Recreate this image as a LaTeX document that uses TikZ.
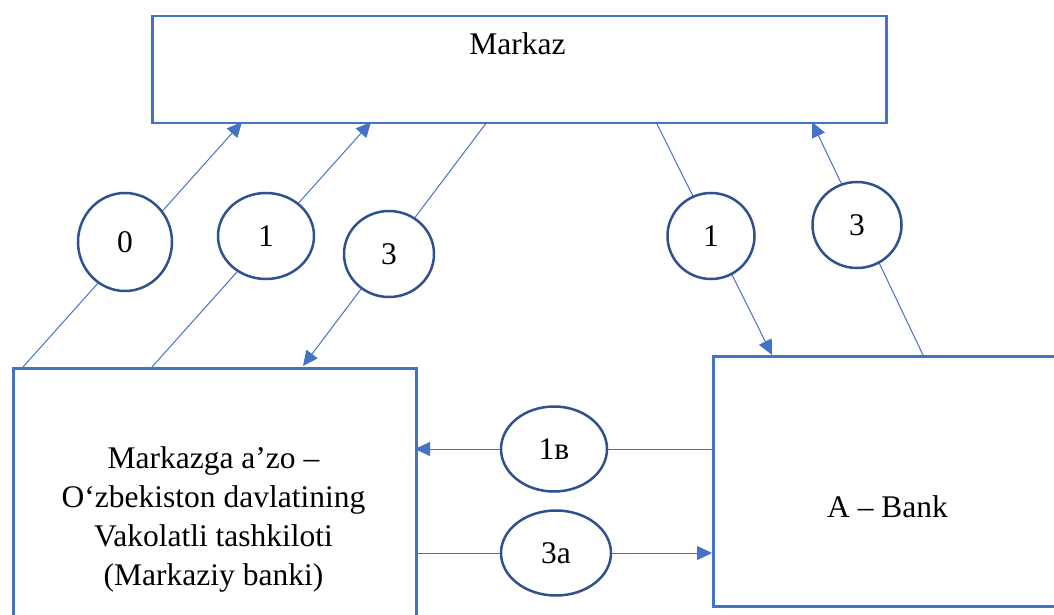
\documentclass[tikz,border=0pt]{standalone}
\usepackage{fontspec}
\setmainfont{Liberation Serif}
\usetikzlibrary{shapes.geometric,arrows.meta}
\definecolor{boxblue}{HTML}{4472C4}
\definecolor{ringblue}{HTML}{2F528F}
\begin{document}
\begin{tikzpicture}[x=1pt,y=-1pt,
  box/.style={draw=boxblue,line width=2.5pt,rectangle,inner sep=0pt,anchor=north west},
  conn/.style={draw=boxblue,line width=1pt},
  arr/.style={conn,-{Triangle[length=15pt,width=14pt]}},
  circ/.style={ellipse,draw=ringblue,line width=2.5pt,fill=white,inner sep=0pt,font=\fontsize{31.5}{39}\selectfont},
  lbl/.style={font=\fontsize{31.5}{39}\selectfont,inner sep=0pt}]
\useasboundingbox (0,0) rectangle (1054,615);
\clip (0,0) rectangle (1054,615);
% boxes
\node[box,minimum width=734pt,minimum height=107pt] (markaz) at (151,15) {};
\node[box,minimum width=403pt,minimum height=300pt] (left) at (12,367) {};
\node[box,minimum width=400pt,minimum height=250pt] (bank) at (712,355) {};
\node[lbl,anchor=base] (tmarkaz) at (517.5,55) {Markaz};
\node[lbl,anchor=base,align=center] (tleft) at (213.5,585) {Markazga a’zo –\\O‘zbekiston davlatining\\Vakolatli tashkiloti\\(Markaziy banki)};
\node[lbl,anchor=base] (tbank) at (887.5,517) {A – Bank};
% connector end points
\coordinate (a0) at (23,367);   \coordinate (t0) at (242,122);
\coordinate (a1) at (152,367);  \coordinate (t1) at (371,122);
\coordinate (s3) at (487,122);  \coordinate (e3) at (303,366);
\coordinate (s1r) at (656,122); \coordinate (e1r) at (772,355);
\coordinate (s3r) at (923,355); \coordinate (e3r) at (812,122);
\coordinate (s1b) at (712,449); \coordinate (e1b) at (415,449);
\coordinate (s3a) at (415,553); \coordinate (e3a) at (712,553);
% connectors
\draw[arr] (a0) -- (t0);
\draw[arr] (a1) -- (t1);
\draw[arr] (s3) -- (e3);
\draw[arr] (s1r) -- (e1r);
\draw[arr] (s3r) -- (e3r);
\draw[arr] (s1b) -- (e1b);
\draw[arr] (s3a) -- (e3a);
% circles
\node[circ,minimum width=94pt,minimum height=98pt] (c0) at (125,242) {0};
\node[circ,minimum width=96pt,minimum height=86pt] (c1) at (266,236) {1};
\node[circ,minimum width=90pt,minimum height=86pt] (c3) at (389,254) {3};
\node[circ,minimum width=87pt,minimum height=86pt] (c1r) at (711,236) {1};
\node[circ,minimum width=89pt,minimum height=86pt] (c3r) at (857,225) {3};
\node[circ,minimum width=106pt,minimum height=85pt] (c1b) at (554,449) {1в};
\node[circ,minimum width=110pt,minimum height=85pt] (c3a) at (556,553) {3a};
\end{tikzpicture}
\end{document}
